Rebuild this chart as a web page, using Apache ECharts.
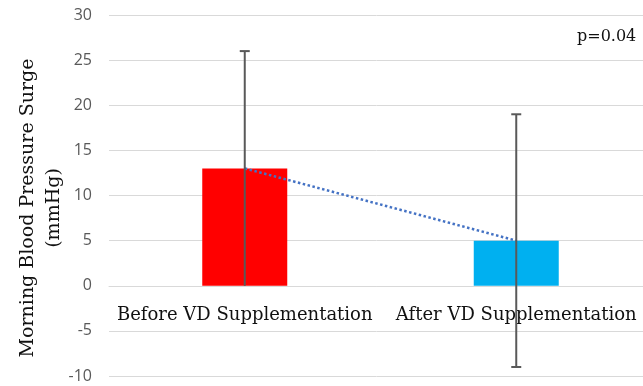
<!DOCTYPE html>
<html><head><meta charset="utf-8">
<script src="https://cdn.jsdelivr.net/npm/echarts@6/dist/echarts.min.js"></script>
<style>html,body{margin:0;padding:0;background:#fff}#c{width:643px;height:386px}</style>
</head><body><div id="c"></div>
<script>
const categories = ['Before VD Supplementation', 'After VD Supplementation'];
const means = [13, 5];
const errLow = [0, -9];
const errHigh = [26, 19];
const barColors = ['#FF0000', '#00B0F0'];
const yTicks = {min: -10, max: 30, interval: 5};
const pText = 'p=0.04';
const yName = ['Morning Blood Pressure Surge', '(mmHg)'];

const serif = "'DejaVu Serif', serif";
const chart = echarts.init(document.getElementById('c'), null, {renderer: 'canvas'});
chart.setOption({
  animation: false,
  grid: {left: 109, top: 15, width: 543, height: 361, containLabel: false, outerBoundsMode: 'none'},
  xAxis: {
    type: 'category', data: categories, position: 'bottom', offset: -90,
    axisLine: {show: true, onZero: false, lineStyle: {color: '#d9d9d9', width: 1}},
    axisTick: {show: false},
    axisLabel: {color: '#111', fontFamily: serif, fontSize: 18, margin: 20, interval: 0, hideOverlap: false}
  },
  yAxis: {
    type: 'value', min: yTicks.min, max: yTicks.max, interval: yTicks.interval,
    axisLine: {show: false}, axisTick: {show: false},
    splitLine: {lineStyle: {color: '#d9d9d9', width: 1}},
    axisLabel: {color: '#595959', fontFamily: "'Open Sans', sans-serif", fontSize: 16, margin: 17}
  },
  graphic: [
    {type: 'text', left: 577, top: 29, style: {text: pText, font: "16px 'DejaVu Serif', serif", fill: '#111'}},
    {type: 'text', x: 41, y: 208, rotation: Math.PI / 2,
     style: {text: yName.join('\n'), font: "19px 'DejaVu Serif', serif", fill: '#111', align: 'center', verticalAlign: 'middle', lineHeight: 26}}
  ],
  series: [
    {
      type: 'bar', barWidth: 85,
      data: means.map((v, i) => ({value: v, itemStyle: {color: barColors[i]}}))
    },
    {
      type: 'line', data: means, symbol: 'none', z: 3,
      lineStyle: {color: '#4472C4', type: 'dotted', width: 2.5}
    },
    {
      type: 'custom', z: 4,
      data: categories.map((c, i) => [i, errLow[i], errHigh[i]]),
      renderItem: function (params, api) {
        const lo = api.coord([api.value(0), api.value(1)]);
        const hi = api.coord([api.value(0), api.value(2)]);
        const cap = 5;
        const st = {stroke: '#595959', lineWidth: 2};
        const kids = [
          {type: 'line', shape: {x1: lo[0], y1: lo[1], x2: hi[0], y2: hi[1]}, style: st},
          {type: 'line', shape: {x1: hi[0] - cap, y1: hi[1], x2: hi[0] + cap, y2: hi[1]}, style: st}
        ];
        if (api.value(1) < 0) {
          kids.push({type: 'line', shape: {x1: lo[0] - cap, y1: lo[1], x2: lo[0] + cap, y2: lo[1]}, style: st});
        }
        return {type: 'group', children: kids};
      }
    }
  ]
});
</script></body></html>
